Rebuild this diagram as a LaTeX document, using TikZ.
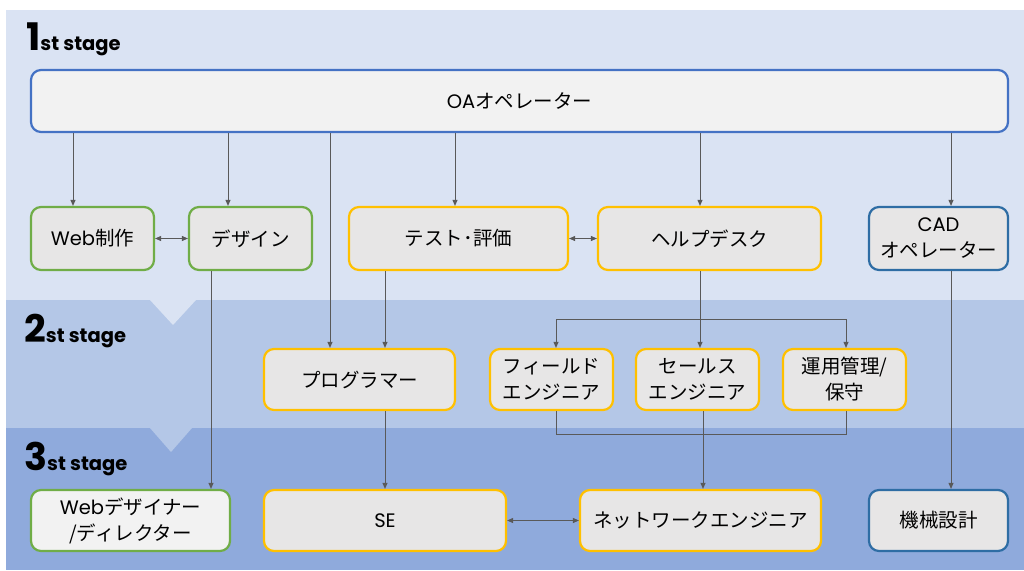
\documentclass[tikz,border=0pt]{standalone}
\usepackage{fontspec}
\setmainfont{Noto Sans CJK JP}
\newfontfamily\lat{Poppins}
\usetikzlibrary{arrows.meta}
\definecolor{bandA}{HTML}{DAE3F3}
\definecolor{bandB}{HTML}{B4C7E7}
\definecolor{bandC}{HTML}{8FAADC}
\definecolor{cblue}{HTML}{4472C4}
\definecolor{cgreen}{HTML}{70AD47}
\definecolor{cyellow}{HTML}{FFC000}
\definecolor{cdblue}{HTML}{2E6DA4}
\definecolor{flight}{HTML}{F2F2F2}
\definecolor{fgray}{HTML}{E7E6E6}
\definecolor{cline}{HTML}{595959}
\tikzset{
  box/.style={rectangle, rounded corners=10pt, line width=2.2pt, align=center,
    font=\fontsize{19.5}{26}\selectfont, text=black, inner sep=0pt},
  bblue/.style={box, draw=cblue, fill=flight},
  bgreen/.style={box, draw=cgreen, fill=fgray},
  bgreenl/.style={box, draw=cgreen, fill=flight},
  byellow/.style={box, draw=cyellow, fill=fgray},
  bdblue/.style={box, draw=cdblue, fill=fgray},
  conn/.style={draw=cline, line width=0.9pt, -{Triangle[length=6pt,width=5pt]}},
  dconn/.style={draw=cline, line width=0.9pt, {Triangle[length=6pt,width=5pt]}-{Triangle[length=6pt,width=5pt]}},
  plain/.style={draw=cline, line width=0.9pt},
  stage/.style={anchor=base west, inner sep=0pt, text=black}
}
\newcommand{\stg}[1]{{\lat\bfseries\fontsize{38}{38}\selectfont #1}{\lat\bfseries\fontsize{19.5}{19.5}\selectfont st stage}}
\begin{document}
\begin{tikzpicture}[x=1pt,y=-1pt]
\useasboundingbox (0,0) rectangle (1024,570);
\fill[white] (0,0) rectangle (1024,570);
% bands
\fill[bandA] (6,10) rectangle (1024,300);
\fill[bandB] (6,300) rectangle (1024,428);
\fill[bandC] (6,428) rectangle (1024,570);
\fill[bandA] (150,300) -- (173,325) -- (196,300) -- cycle;
\fill[bandB] (150,428) -- (171,452) -- (192,428) -- cycle;
% stage labels
\node[stage] (s1) at (26,50) {\stg{1}};
\node[stage] (s2) at (24,342) {\stg{2}};
\node[stage] (s3) at (24,470) {\stg{3}};
% boxes
\node[bblue, minimum width=977pt, minimum height=62pt] (oa) at (519.5,101) {{\lat OA}オペレーター};
\node[bgreen, minimum width=123pt, minimum height=63pt] (web) at (92.5,238.5) {{\lat Web}制作};
\node[bgreen, minimum width=123pt, minimum height=63pt] (des) at (250.5,238.5) {デザイン};
\node[byellow, minimum width=219pt, minimum height=63pt] (test) at (458.5,238.5) {テスト･評価};
\node[byellow, minimum width=223pt, minimum height=63pt] (help) at (709.5,238.5) {ヘルプデスク};
\node[bdblue, minimum width=139pt, minimum height=63pt] (cad) at (938.5,238.5) {{\lat CAD}\\オペレーター};
\node[byellow, minimum width=191pt, minimum height=61pt] (prog) at (359.5,379.5) {プログラマー};
\node[byellow, minimum width=123pt, minimum height=61pt] (field) at (551.5,379.5) {フィールド\\エンジニア};
\node[byellow, minimum width=123pt, minimum height=61pt] (sales) at (697.5,379.5) {セールス\\エンジニア};
\node[byellow, minimum width=123pt, minimum height=61pt] (ops) at (844.5,379.5) {運用管理/\\保守};
\node[bgreenl, minimum width=199pt, minimum height=61pt] (webd) at (130.5,520.5) {{\lat Web}デザイナー\\/ディレクター};
\node[byellow, minimum width=242pt, minimum height=61pt] (se) at (385,520.5) {{\lat SE}};
\node[byellow, minimum width=241pt, minimum height=61pt] (net) at (700.5,520.5) {ネットワークエンジニア};
\node[bdblue, minimum width=139pt, minimum height=61pt] (mech) at (938.5,520.5) {機械設計};
% coordinates
\coordinate (bt) at (556,319);
\coordinate (bb) at (556,434);
\coordinate (ot) at (846,319);
\coordinate (ob) at (846,434);
% connectors
\draw[conn] (oa.south -| 73,0) -- (web.north -| 73,0);
\draw[conn] (oa.south -| 228,0) -- (des.north -| 228,0);
\draw[conn] (oa.south -| 330,0) -- (prog.north -| 330,0);
\draw[conn] (oa.south -| 455,0) -- (test.north -| 455,0);
\draw[conn] (oa.south -| 700,0) -- (help.north -| 700,0);
\draw[conn] (oa.south -| 951,0) -- (cad.north -| 951,0);
\draw[dconn] (web.east) -- (des.west);
\draw[dconn] (test.east) -- (help.west);
\draw[conn] (des.south -| 211,0) -- (webd.north -| 211,0);
\draw[conn] (test.south -| 385,0) -- (prog.north -| 385,0);
\draw[conn] (help.south -| 700,0) -- (sales.north -| 700,0);
\draw[conn] (bt) -- (field.north -| bt);
\draw[conn] (ot) -- (ops.north -| ot);
\draw[plain] (bt) -- (ot);
\draw[plain] (field.south -| bb) -- (bb) -- (ob) -- (ops.south -| ob);
\draw[conn] (sales.south -| 703,0) -- (net.north -| 703,0);
\draw[conn] (prog.south -| 385,0) -- (se.north -| 385,0);
\draw[dconn] (se.east) -- (net.west);
\draw[conn] (cad.south -| 951,0) -- (mech.north -| 951,0);
\end{tikzpicture}
\end{document}
